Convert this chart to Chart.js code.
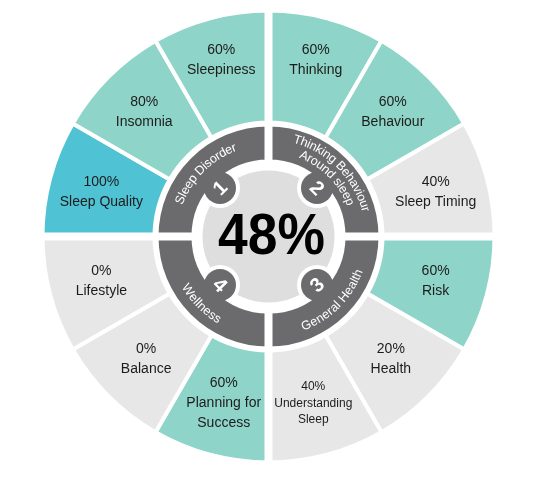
<!DOCTYPE html>
<html><head><meta charset="utf-8">
<script src="https://cdn.jsdelivr.net/npm/chart.js@4.4.1/dist/chart.umd.min.js"></script>
<style>html,body{margin:0;padding:0;background:#fff;}canvas{display:block}</style>
</head><body>
<canvas id="c" width="533" height="484"></canvas>
<script>
// ---- data (clockwise from 12 o'clock) ----
const categories = ['Thinking','Behaviour','Sleep Timing','Risk','Health','Understanding\nSleep','Planning for\nSuccess','Balance','Lifestyle','Sleep Quality','Insomnia','Sleepiness'];
const scores = [60,60,40,60,20,40,60,0,0,100,80,60];
const sliceWeights = [1,1,1,1,1,1,1,1,1,1,1,1];
const groups = ['Thinking Behaviour\nAround sleep','General Health','Wellness','Sleep Disorder'];
const groupNumbers = ['2','3','4','1'];
const groupWeights = [1,1,1,1];

const FONT = '"Liberation Sans", Arial, Helvetica, sans-serif';
const TEAL = '#8fd4c8', CYAN = '#4fc3d4', LIGHT = '#e7e7e7', DARK = '#6b6b6e', CENTER = '#dedede';
function scoreColor(v){ return v >= 100 ? CYAN : (v >= 60 ? TEAL : LIGHT); }

function arcText(ctx, text, cx, cy, r, mid, outward){
  const chars = [...text];
  const widths = chars.map(ch => ctx.measureText(ch).width);
  const total = widths.reduce((a,b)=>a+b,0) / r;
  let a = outward ? mid - total/2 : mid + total/2;
  chars.forEach((ch,i) => {
    const w = widths[i]/r;
    const ang = outward ? a + w/2 : a - w/2;
    ctx.save();
    ctx.translate(cx + r*Math.cos(ang), cy + r*Math.sin(ang));
    ctx.rotate(outward ? ang + Math.PI/2 : ang - Math.PI/2);
    ctx.fillText(ch, 0, 0);
    ctx.restore();
    a = outward ? a + w : a - w;
  });
}

const overlay = {
  id: 'overlay',
  afterDatasetsDraw(chart){
    const ctx = chart.ctx;
    const outer = chart.getDatasetMeta(0).data;
    const ring = chart.getDatasetMeta(2).data;
    const p0 = outer[0].getProps(['x','y','outerRadius'], true);
    const cx = p0.x, cy = p0.y, R = p0.outerRadius;
    const rIn = ring[0].getProps(['innerRadius'], true).innerRadius;
    const rOut = ring[0].getProps(['outerRadius'], true).outerRadius;

    // quadrant separations
    ctx.save();
    ctx.fillStyle = '#fff';
    ctx.fillRect(cx - 4, cy - R - 4, 8, 2*R + 8);
    ctx.fillRect(cx - R - 4, cy - 4, 2*R + 8, 8);
    ctx.restore();

    // outer segment labels
    outer.forEach((arc, i) => {
      const p = arc.getProps(['startAngle','endAngle'], true);
      const mid = (p.startAngle + p.endAngle)/2;
      const up = Math.max(0, -Math.sin(mid));
      const r = 173 + 11*Math.pow(up, 4);
      const lx = cx + r*Math.cos(mid), ly = cy + r*Math.sin(mid);
      const lines = [scores[i] + '%'].concat(categories[i].split('\n'));
      ctx.save();
      let size = 14;
      ctx.font = size + 'px ' + FONT;
      const maxW = Math.max(...lines.map(l => ctx.measureText(l).width));
      if (maxW > 90) { size = 12; ctx.font = size + 'px ' + FONT; }
      const lh = size === 14 ? 20 : 16.5;
      ctx.fillStyle = '#1c1c1c';
      ctx.textAlign = 'center';
      ctx.textBaseline = 'middle';
      lines.forEach((l, k) => ctx.fillText(l, lx, ly + (k - (lines.length-1)/2)*lh));
      ctx.restore();
    });

    // centre disc
    const rc = rIn - 9;
    ctx.save();
    ctx.fillStyle = CENTER;
    ctx.beginPath(); ctx.arc(cx, cy, rc, 0, Math.PI*2); ctx.fill();

    // number badges
    const rb = rIn - 6.4;
    const mids = ring.map(a => { const p = a.getProps(['startAngle','endAngle'], true); return (p.startAngle+p.endAngle)/2; });
    ctx.save();
    ctx.beginPath(); ctx.arc(cx, cy, rIn, 0, Math.PI*2); ctx.clip();
    ctx.fillStyle = '#fff';
    mids.forEach(m => { ctx.beginPath(); ctx.arc(cx + rb*Math.cos(m), cy + rb*Math.sin(m), 20, 0, Math.PI*2); ctx.fill(); });
    ctx.restore();
    ctx.fillStyle = DARK;
    mids.forEach(m => { ctx.beginPath(); ctx.arc(cx + rb*Math.cos(m), cy + rb*Math.sin(m), 16, 0, Math.PI*2); ctx.fill(); });
    ctx.fillStyle = '#fff';
    ctx.font = 'bold 20px ' + FONT;
    ctx.textAlign = 'center'; ctx.textBaseline = 'middle';
    mids.forEach((m, i) => {
      const outward = Math.sin(m) < 0;
      ctx.save();
      ctx.translate(cx + rb*Math.cos(m), cy + rb*Math.sin(m));
      ctx.rotate(outward ? m + Math.PI/2 : m - Math.PI/2);
      ctx.fillText(groupNumbers[i], 0, 1);
      ctx.restore();
    });

    // curved group names
    ctx.font = '12.5px ' + FONT;
    ctx.fillStyle = '#fff';
    mids.forEach((m, i) => {
      const outward = Math.sin(m) < 0;
      const lines = groups[i].split('\n');
      if (lines.length === 1) {
        arcText(ctx, lines[0], cx, cy, outward ? 95 : 97, m, outward);
      } else {
        arcText(ctx, lines[0], cx, cy, 100.5, m, outward);
        arcText(ctx, lines[1], cx, cy, 88, m, outward);
      }
    });

    // overall score
    const avg = Math.round(scores.reduce((a,b)=>a+b,0) / scores.length);
    ctx.save();
    ctx.translate(cx + 3, cy + 1);
    ctx.scale(0.92, 1);
    ctx.font = 'bold 58px ' + FONT;
    ctx.fillStyle = '#000';
    ctx.textAlign = 'center'; ctx.textBaseline = 'middle';
    ctx.fillText(avg + '%', 0, 0);
    ctx.restore();
    ctx.restore();
  }
};

new Chart(document.getElementById('c'), {
  type: 'doughnut',
  data: {
    labels: categories,
    datasets: [
      { data: sliceWeights, backgroundColor: scores.map(scoreColor), borderColor: '#fff', borderWidth: 4, weight: 112 },
      { data: [1], backgroundColor: 'rgba(0,0,0,0)', borderWidth: 0, weight: 2 },
      { data: groupWeights, backgroundColor: DARK, borderColor: '#fff', borderWidth: 4, weight: 37 }
    ]
  },
  options: {
    responsive: false,
    animation: false,
    events: [],
    radius: 226,
    cutout: (75/226*100) + '%',
    layout: { padding: { left: 44, right: 40, top: 12, bottom: 23 } },
    plugins: { legend: { display: false }, tooltip: { enabled: false } }
  },
  plugins: [overlay]
});
</script>
</body></html>
